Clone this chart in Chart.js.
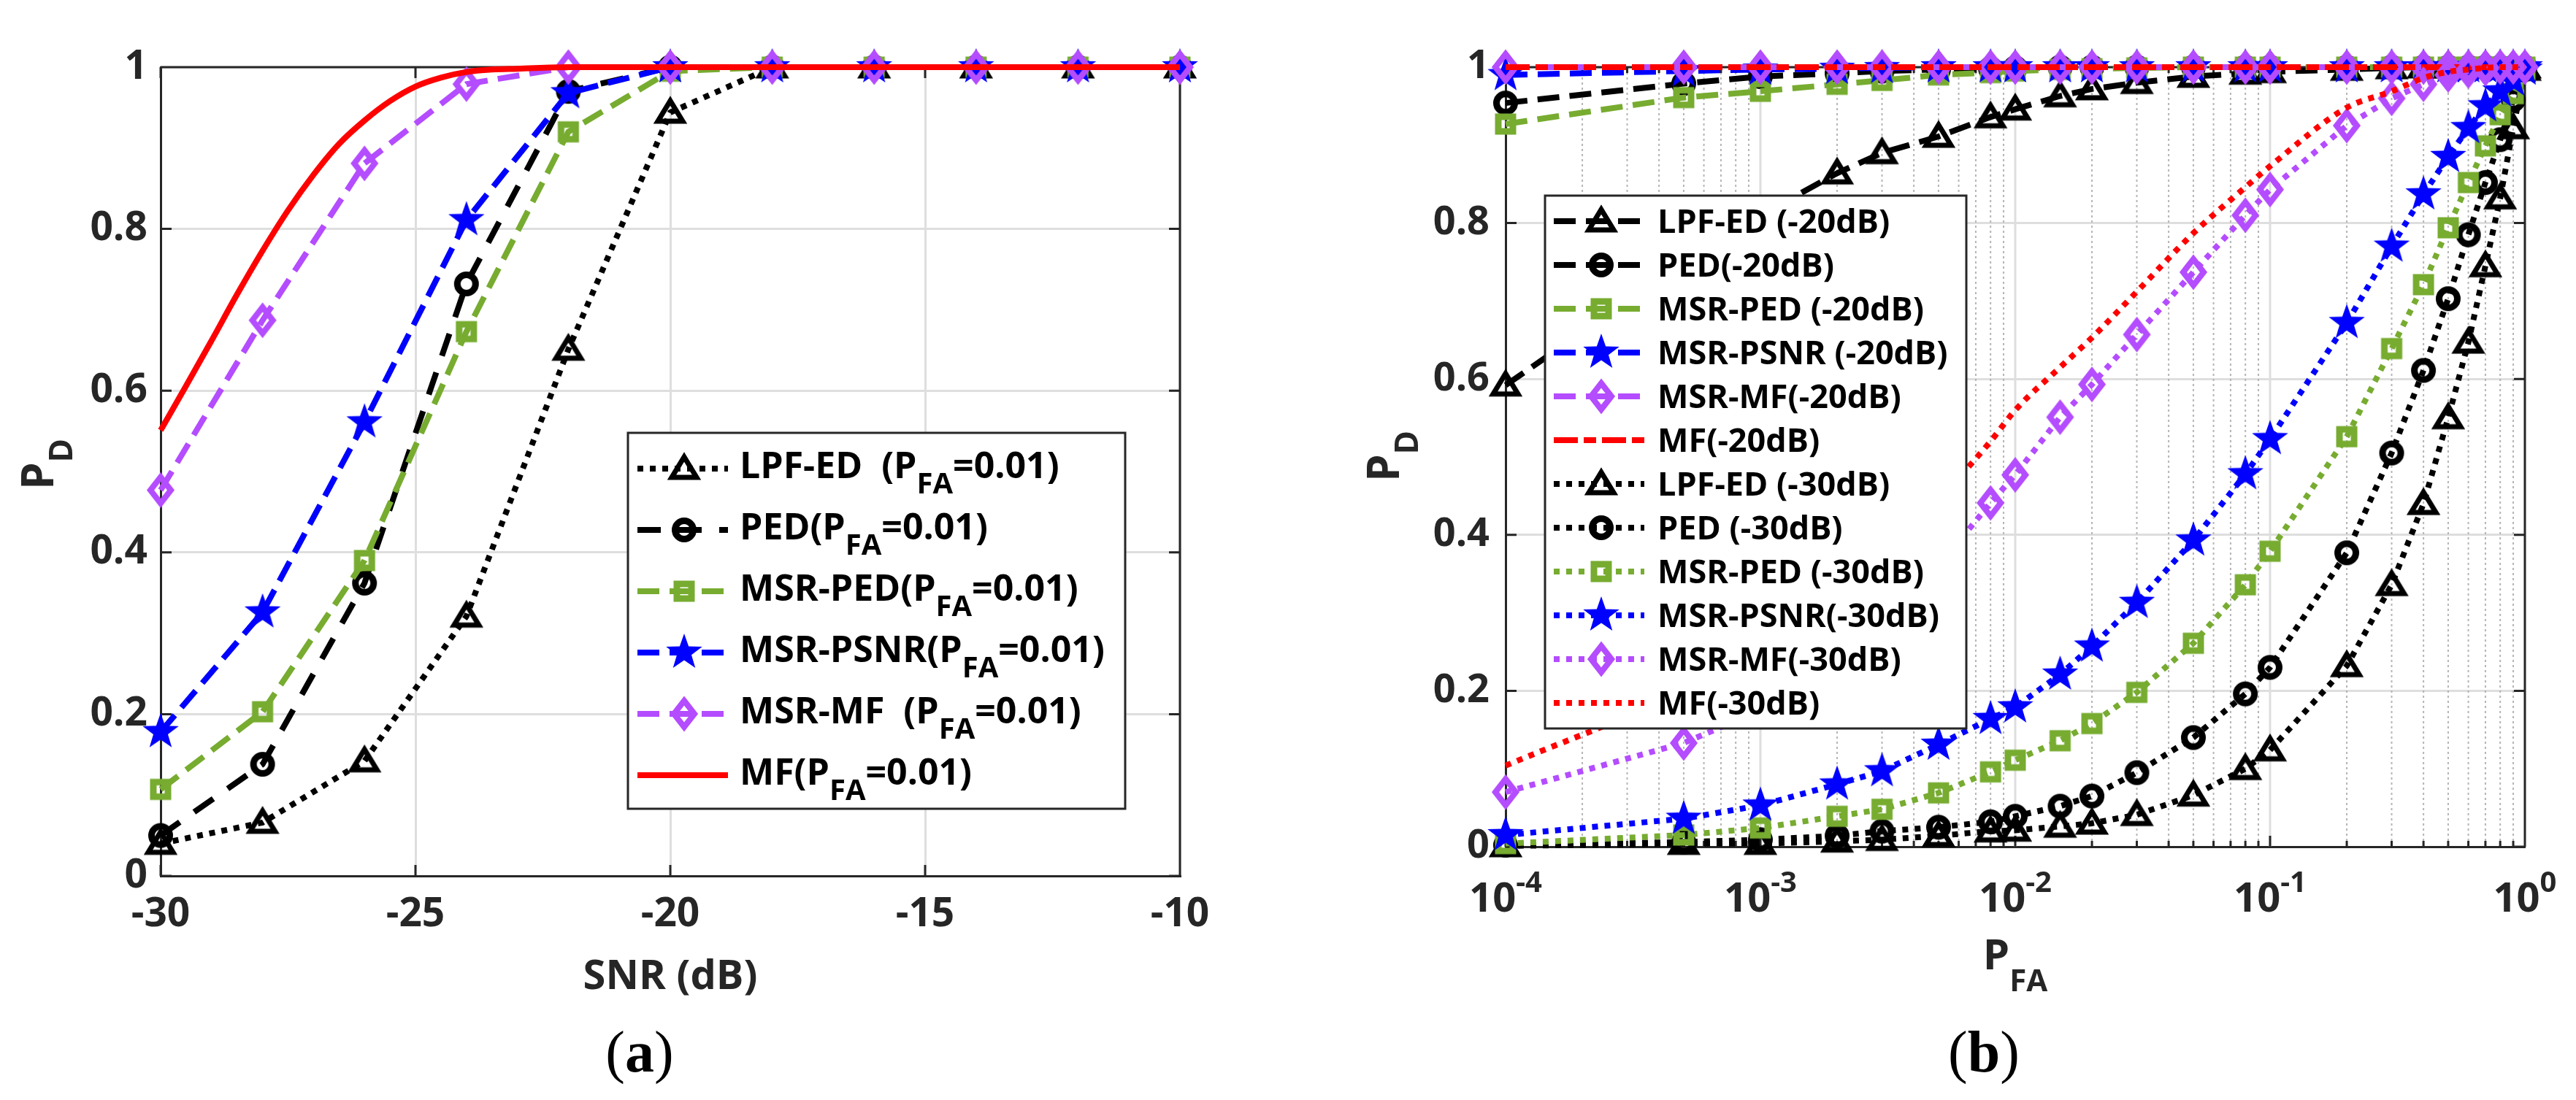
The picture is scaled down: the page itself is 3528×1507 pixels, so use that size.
<!DOCTYPE html>
<html>
<head>
<meta charset="utf-8">
<title>PD vs SNR and PFA</title>
<script src="https://cdn.jsdelivr.net/npm/chart.js@4.4.1/dist/chart.umd.min.js"></script>
<style>
  html, body { margin: 0; padding: 0; background: #ffffff; }
  body { width: 3528px; height: 1507px; position: relative; overflow: hidden; }
  .panel { position: absolute; top: 0; width: 1764px; height: 1507px; }
  .panel canvas { display: block; }
</style>
</head>
<body>
<div class="panel" style="left:0"><canvas id="snrChart" width="1764" height="1507"></canvas></div>
<div class="panel" style="left:1764px"><canvas id="pfaChart" width="1764" height="1507"></canvas></div>
<script>
// ---- panel (a): PD vs SNR, PFA = 0.01
const snr = [-30, -28, -26, -24, -22, -20, -18, -16, -14, -12, -10];
const lpfEdA = [0.04, 0.066, 0.142, 0.321, 0.651, 0.944, 1, 1, 1, 1, 1];
const pedA = [0.05, 0.138, 0.362, 0.732, 0.97, 1, 1, 1, 1, 1, 1];
const msrPedA = [0.107, 0.203, 0.39, 0.673, 0.92, 0.995, 1, 1, 1, 1, 1];
const msrPsnrA = [0.178, 0.326, 0.561, 0.811, 0.968, 1, 1, 1, 1, 1, 1];
const msrMfA = [0.477, 0.687, 0.881, 0.979, 1, 1, 1, 1, 1, 1, 1];
const mfSnr = [-30, -29.5, -29, -28.5, -28, -27.5, -27, -26.5, -26, -25.5, -25, -24.5, -24, -23.5, -23, -22, -20, -18, -16, -14, -12, -10];
const mfA = [0.551, 0.606, 0.662, 0.719, 0.773, 0.823, 0.867, 0.905, 0.934, 0.958, 0.976, 0.987, 0.994, 0.997, 0.998, 1, 1, 1, 1, 1, 1, 1];
const snrTicks = [-30, -25, -20, -15, -10];
const pdTicks = [0, 0.2, 0.4, 0.6, 0.8, 1];
const legendA = [
  ['LPF-ED  (P', 'FA', '=0.01)'],
  ['PED(P', 'FA', '=0.01)'],
  ['MSR-PED(P', 'FA', '=0.01)'],
  ['MSR-PSNR(P', 'FA', '=0.01)'],
  ['MSR-MF  (P', 'FA', '=0.01)'],
  ['MF(P', 'FA', '=0.01)']
];

// ---- panel (b): ROC at -20 dB and -30 dB
const pfa = [1e-4, 5e-4, 1e-3, 2e-3, 3e-3, 5e-3, 8e-3, 1e-2, 1.5e-2, 2e-2, 3e-2, 5e-2, 8e-2, 0.1, 0.2, 0.3, 0.4, 0.5, 0.6, 0.7, 0.8, 0.9, 1];
const lpfEd20 = [0.592, 0.75, 0.81, 0.864, 0.89, 0.911, 0.936, 0.946, 0.963, 0.972, 0.98, 0.988, 0.992, 0.994, 0.997, 0.999, 1, 1, 1, 1, 1, 1, 1];
const ped20 = [0.954, 0.979, 0.988, 0.992, 0.995, 0.997, 0.998, 0.999, 1, 1, 1, 1, 1, 1, 1, 1, 1, 1, 1, 1, 1, 1, 1];
const msrPed20 = [0.927, 0.961, 0.969, 0.978, 0.983, 0.99, 0.993, 0.995, 0.997, 0.998, 0.999, 1, 1, 1, 1, 1, 1, 1, 1, 1, 1, 1, 1];
const msrPsnr20 = [0.99, 0.995, 0.997, 0.998, 0.999, 1, 1, 1, 1, 1, 1, 1, 1, 1, 1, 1, 1, 1, 1, 1, 1, 1, 1];
const msrMf20 = [1, 1, 1, 1, 1, 1, 1, 1, 1, 1, 1, 1, 1, 1, 1, 1, 1, 1, 1, 1, 1, 1, 1];
const mf20 = [1, 1, 1, 1, 1, 1, 1, 1, 1, 1, 1, 1, 1, 1, 1, 1, 1, 1, 1, 1, 1, 1, 1];
const lpfEd30 = [0.001, 0.004, 0.004, 0.007, 0.009, 0.014, 0.02, 0.021, 0.026, 0.03, 0.041, 0.066, 0.1, 0.124, 0.232, 0.336, 0.44, 0.55, 0.647, 0.745, 0.832, 0.922, 0.997];
const ped30 = [0.002, 0.006, 0.009, 0.014, 0.02, 0.025, 0.032, 0.039, 0.052, 0.065, 0.095, 0.14, 0.196, 0.23, 0.377, 0.505, 0.611, 0.703, 0.785, 0.852, 0.907, 0.958, 0.997];
const msrPed30 = [0.004, 0.015, 0.024, 0.039, 0.048, 0.069, 0.096, 0.111, 0.136, 0.158, 0.198, 0.261, 0.336, 0.379, 0.526, 0.639, 0.721, 0.794, 0.852, 0.899, 0.939, 0.966, 0.997];
const msrPsnr30 = [0.015, 0.036, 0.053, 0.08, 0.097, 0.131, 0.164, 0.179, 0.221, 0.257, 0.313, 0.393, 0.478, 0.523, 0.672, 0.77, 0.837, 0.885, 0.922, 0.95, 0.969, 0.983, 0.997];
const msrMf30 = [0.07, 0.133, 0.175, 0.24, 0.29, 0.36, 0.441, 0.477, 0.551, 0.593, 0.657, 0.737, 0.81, 0.843, 0.925, 0.96, 0.978, 0.99, 0.995, 0.998, 1, 1, 1];
const mf30 = [0.104, 0.2, 0.255, 0.325, 0.37, 0.445, 0.52, 0.56, 0.615, 0.653, 0.712, 0.787, 0.846, 0.873, 0.948, 0.969, 0.986, 0.994, 0.997, 0.999, 1, 1, 1];
const pfaTickExp = [-4, -3, -2, -1, 0];
const legendB = [
  'LPF-ED (-20dB)', 'PED(-20dB)', 'MSR-PED (-20dB)', 'MSR-PSNR (-20dB)', 'MSR-MF(-20dB)', 'MF(-20dB)',
  'LPF-ED (-30dB)', 'PED (-30dB)', 'MSR-PED (-30dB)', 'MSR-PSNR(-30dB)', 'MSR-MF(-30dB)', 'MF(-30dB)'
];

const FONT = "'Open Sans', 'DejaVu Sans', sans-serif";
const AXIS = '#262626';
const GRID = '#dedede';
const MINOR = '#b5b5b5';
const BLACK = '#000000', GREEN = '#77ac30', BLUE = '#0000ff', PURPLE = '#b44cff', RED = '#ff0000';
const DOT = [8, 9], DASH = [30, 14], LONG_DASH = [32, 24], DASH_DOT = [33, 8, 17, 8];
const LINE_W = 8;

// hollow / filled marker glyphs (MATLAB look)
function marker(shape, color) {
  const c = document.createElement('canvas');
  c.width = 64; c.height = 64;
  const g = c.getContext('2d');
  g.translate(32, 32);
  g.strokeStyle = color; g.fillStyle = color; g.lineJoin = 'miter';
  g.beginPath();
  if (shape === 'triangle') {
    g.moveTo(0, -16); g.lineTo(17, 12); g.lineTo(-17, 12); g.closePath();
    g.lineWidth = 7; g.stroke();
  } else if (shape === 'circle') {
    g.arc(0, 0, 12.5, 0, Math.PI * 2);
    g.lineWidth = 9; g.stroke();
  } else if (shape === 'square') {
    g.rect(-10, -10, 20, 20);
    g.lineWidth = 9; g.stroke();
  } else if (shape === 'diamond') {
    g.moveTo(0, -18); g.lineTo(14, 0); g.lineTo(0, 18); g.lineTo(-14, 0); g.closePath();
    g.lineWidth = 8; g.stroke();
  } else if (shape === 'star') {
    for (let k = 0; k < 10; k++) {
      const r = k % 2 ? 10.5 : 26;
      const t = -Math.PI / 2 + k * Math.PI / 5;
      g.lineTo(r * Math.cos(t), r * Math.sin(t));
    }
    g.closePath(); g.fill();
  }
  return c;
}

function series(label, xs, ys, color, dash, shape) {
  return {
    label: label,
    data: xs.map((x, i) => ({ x: x, y: ys[i] })),
    borderColor: color,
    backgroundColor: color,
    borderWidth: LINE_W,
    borderDash: dash,
    borderCapStyle: 'butt',
    pointStyle: shape ? marker(shape, color) : 'circle',
    pointRadius: shape ? 20 : 0,
    pointHoverRadius: shape ? 20 : 0,
    pointBorderWidth: 0,
    tension: 0,
    cubicInterpolationMode: shape ? 'default' : 'monotone',
    fill: false,
    clip: false
  };
}

// later datasets on top, as in the plotting order
function stack(list) {
  list.forEach((d, i) => { d.order = list.length - i; });
  return list;
}

// text with sub/superscripts: even parts normal, odd parts shifted by f.dy
function drawRich(ctx, parts, x, y, f) {
  if (typeof parts === 'string') parts = [parts];
  const big = 'bold ' + f.size + 'px ' + FONT;
  const small = 'bold ' + (f.sub || f.size) + 'px ' + FONT;
  let w = 0;
  parts.forEach((t, i) => { ctx.font = i % 2 ? small : big; w += ctx.measureText(t).width; });
  let cx = f.align === 'center' ? x - w / 2 : x;
  ctx.textAlign = 'left';
  ctx.textBaseline = 'alphabetic';
  parts.forEach((t, i) => {
    ctx.font = i % 2 ? small : big;
    ctx.fillText(t, cx, i % 2 ? y + f.dy : y);
    cx += ctx.measureText(t).width;
  });
}

function drawCaption(ctx, letter, cx, base) {
  const thin = "80px 'Liberation Serif', 'DejaVu Serif', serif";
  const bold = "bold 80px 'Liberation Serif', 'DejaVu Serif', serif";
  const parts = [['(', thin], [letter, bold], [')', thin]];
  let w = 0;
  parts.forEach(p => { ctx.font = p[1]; w += ctx.measureText(p[0]).width; });
  let x = cx - w / 2;
  ctx.fillStyle = '#000';
  ctx.textAlign = 'left';
  ctx.textBaseline = 'alphabetic';
  parts.forEach(p => { ctx.font = p[1]; ctx.fillText(p[0], x, base); x += ctx.measureText(p[0]).width; });
}

function drawLegend(ctx, box, datasets, labels) {
  ctx.save();
  ctx.fillStyle = '#ffffff';
  ctx.fillRect(box.x, box.y, box.w, box.h);
  ctx.strokeStyle = AXIS; ctx.lineWidth = 3; ctx.setLineDash([]);
  ctx.strokeRect(box.x, box.y, box.w, box.h);
  datasets.forEach((ds, i) => {
    const y = box.first + i * box.step;
    ctx.strokeStyle = ds.borderColor; ctx.lineWidth = LINE_W; ctx.lineCap = 'butt';
    ctx.setLineDash(ds.borderDash || []);
    ctx.beginPath(); ctx.moveTo(box.lineFrom, y); ctx.lineTo(box.lineTo, y); ctx.stroke();
    ctx.setLineDash([]);
    if (ds.pointRadius > 0) ctx.drawImage(ds.pointStyle, box.mark - 32, y - 32);
    ctx.fillStyle = '#000';
    drawRich(ctx, labels[i], box.text, y + box.base, box.font);
  });
  ctx.restore();
}

function framePlugin(cfg) {
  return {
    id: 'frame',
    beforeDatasetsDraw(chart) {
      const { ctx, chartArea: a } = chart;
      const x = chart.scales.x, y = chart.scales.y;
      ctx.save();
      const xTicks = [];
      if (cfg.logX) {
        for (let e = -4; e < 0; e++) {
          for (let m = 1; m < 10; m++) {
            const px = x.getPixelForValue(m * Math.pow(10, e));
            xTicks.push({ px: px, len: m === 1 ? 15 : 8 });
            if (m === 1 && e === -4) continue;
            if (m === 1) { ctx.strokeStyle = GRID; ctx.lineWidth = 3; ctx.setLineDash([]); }
            else { ctx.strokeStyle = MINOR; ctx.lineWidth = 2; ctx.setLineDash([3, 4]); }
            ctx.beginPath(); ctx.moveTo(px, a.top); ctx.lineTo(px, a.bottom); ctx.stroke();
          }
        }
        xTicks.push({ px: x.getPixelForValue(1), len: 15 });
      } else {
        x.ticks.forEach(t => xTicks.push({ px: x.getPixelForValue(t.value), len: 15 }));
      }
      ctx.setLineDash([]);
      ctx.strokeStyle = AXIS; ctx.lineWidth = 3;
      ctx.beginPath();
      ctx.moveTo(a.left, a.top); ctx.lineTo(a.right, a.top); ctx.lineTo(a.right, a.bottom);
      xTicks.forEach(t => {
        ctx.moveTo(t.px, a.bottom); ctx.lineTo(t.px, a.bottom - t.len);
        ctx.moveTo(t.px, a.top); ctx.lineTo(t.px, a.top + t.len);
      });
      y.ticks.forEach(t => {
        const py = y.getPixelForValue(t.value);
        ctx.moveTo(a.left, py); ctx.lineTo(a.left + 15, py);
        ctx.moveTo(a.right, py); ctx.lineTo(a.right - 15, py);
      });
      ctx.stroke();
      ctx.restore();
    },
    afterDatasetsDraw(chart) {
      drawLegend(chart.ctx, cfg.legend, chart.data.datasets, cfg.labels);
    },
    afterDraw(chart) {
      const ctx = chart.ctx;
      const a = chart.chartArea;
      ctx.save();
      ctx.fillStyle = AXIS;
      if (cfg.logX) {
        const x = chart.scales.x;
        pfaTickExp.forEach(e => {
          drawRich(ctx, ['10', String(e)], x.getPixelForValue(Math.pow(10, e)), cfg.tickBase,
            { size: 56, sub: 40, dy: -27, align: 'center' });
        });
      }
      const cx = (a.left + a.right) / 2;
      drawRich(ctx, cfg.xTitle, cx, cfg.xTitleBase, cfg.xTitleFont);
      ctx.save();
      ctx.translate(cfg.yTitleX, cfg.yTitleY);
      ctx.rotate(-Math.PI / 2);
      drawRich(ctx, ['P', 'D'], 0, 0, { size: 60, sub: 44, dy: 26, align: 'center' });
      ctx.restore();
      drawCaption(ctx, cfg.caption, cfg.captionX, 1468);
      ctx.restore();
    }
  };
}

function pdAxis(width, pad, size) {
  return {
    type: 'linear', min: 0, max: 1,
    afterBuildTicks: s => { s.ticks = pdTicks.map(v => ({ value: v })); },
    ticks: { callback: v => String(+v.toFixed(1)), padding: pad, color: AXIS,
             font: { family: FONT, size: size, weight: 'bold' } },
    grid: { color: GRID, lineWidth: 3, drawTicks: false },
    border: { color: AXIS, width: 3 },
    afterFit: s => { s.width = width; }
  };
}

window.addEventListener('load', function () {
  Chart.defaults.font.family = FONT;

  const dsA = stack([
    series('LPF-ED', snr, lpfEdA, BLACK, DOT, 'triangle'),
    series('PED', snr, pedA, BLACK, LONG_DASH, 'circle'),
    series('MSR-PED', snr, msrPedA, GREEN, DASH, 'square'),
    series('MSR-PSNR', snr, msrPsnrA, BLUE, DASH, 'star'),
    series('MSR-MF', snr, msrMfA, PURPLE, DASH, 'diamond'),
    series('MF', mfSnr, mfA, RED, [], null)
  ]);

  window.snrChart = new Chart(document.getElementById('snrChart').getContext('2d'), {
    type: 'line',
    data: { datasets: dsA },
    options: {
      responsive: false, animation: false, devicePixelRatio: 1, events: [],
      layout: { padding: { top: 92, right: 148, left: 0, bottom: 0 } },
      plugins: { legend: { display: false }, tooltip: { enabled: false } },
      scales: {
        x: {
          type: 'linear', min: -30, max: -10,
          afterBuildTicks: s => { s.ticks = snrTicks.map(v => ({ value: v })); },
          ticks: { callback: v => String(v), padding: 20, color: AXIS,
                   font: { family: FONT, size: 55, weight: 'bold' } },
          grid: { color: GRID, lineWidth: 3, drawTicks: false },
          border: { color: AXIS, width: 3 },
          afterFit: s => { s.height = 307; }
        },
        y: pdAxis(220, 18, 55)
      }
    },
    plugins: [framePlugin({
      legend: { x: 860, y: 593, w: 681, h: 515, first: 642, step: 84,
                lineFrom: 873, lineTo: 997, mark: 937, text: 1013, base: 13,
                font: { size: 50, sub: 40, dy: 21 } },
      labels: legendA,
      xTitle: 'SNR (dB)', xTitleBase: 1355, xTitleFont: { size: 56, align: 'center' },
      yTitleX: 73, yTitleY: 636,
      caption: 'a', captionX: 876
    })]
  });

  const dsB = stack([
    series('LPF-ED (-20dB)', pfa, lpfEd20, BLACK, DASH, 'triangle'),
    series('PED(-20dB)', pfa, ped20, BLACK, DASH, 'circle'),
    series('MSR-PED (-20dB)', pfa, msrPed20, GREEN, DASH, 'square'),
    series('MSR-PSNR (-20dB)', pfa, msrPsnr20, BLUE, DASH, 'star'),
    series('MSR-MF(-20dB)', pfa, msrMf20, PURPLE, DASH, 'diamond'),
    series('MF(-20dB)', pfa, mf20, RED, DASH_DOT, null),
    series('LPF-ED (-30dB)', pfa, lpfEd30, BLACK, DOT, 'triangle'),
    series('PED (-30dB)', pfa, ped30, BLACK, DOT, 'circle'),
    series('MSR-PED (-30dB)', pfa, msrPed30, GREEN, DOT, 'square'),
    series('MSR-PSNR(-30dB)', pfa, msrPsnr30, BLUE, DOT, 'star'),
    series('MSR-MF(-30dB)', pfa, msrMf30, PURPLE, DOT, 'diamond'),
    series('MF(-30dB)', pfa, mf30, RED, DOT, null)
  ]);

  window.pfaChart = new Chart(document.getElementById('pfaChart').getContext('2d'), {
    type: 'line',
    data: { datasets: dsB },
    options: {
      responsive: false, animation: false, devicePixelRatio: 1, events: [],
      layout: { padding: { top: 92, right: 70, left: 0, bottom: 0 } },
      plugins: { legend: { display: false }, tooltip: { enabled: false } },
      scales: {
        x: {
          type: 'logarithmic', min: 1e-4, max: 1,
          ticks: { display: false },
          grid: { display: false },
          border: { color: AXIS, width: 3 },
          afterFit: s => { s.height = 347; }
        },
        y: pdAxis(298, 22, 54)
      }
    },
    plugins: [framePlugin({
      logX: true, tickBase: 1249,
      legend: { x: 352, y: 268, w: 577, h: 730, first: 303, step: 60,
                lineFrom: 364, lineTo: 488, mark: 429, text: 506, base: 16,
                font: { size: 45 } },
      labels: legendB,
      xTitle: ['P', 'FA'], xTitleBase: 1328, xTitleFont: { size: 58, sub: 42, dy: 30, align: 'center' },
      yTitleX: 152, yTitleY: 625,
      caption: 'b', captionX: 953
    })]
  });
});
</script>
</body>
</html>
